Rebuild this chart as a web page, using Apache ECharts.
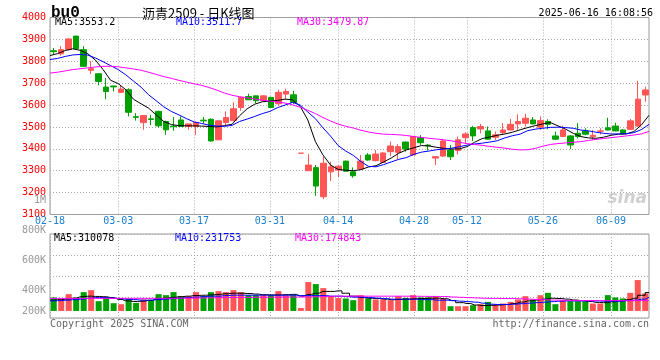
<!DOCTYPE html>
<html>
<head>
<meta charset="utf-8">
<script src="https://cdn.jsdelivr.net/npm/echarts@6/dist/echarts.min.js"></script>
<style>
html,body{margin:0;padding:0;background:#fff;}
#c{width:660px;height:360px;}
</style>
</head>
<body>
<div id="c"></div>
<script>
// ---------------- data ----------------
const dates = [
 '02-18','02-19','02-20','02-21','02-24','02-25','02-26','02-27','02-28',
 '03-03','03-04','03-05','03-06','03-07','03-10','03-11','03-12','03-13','03-14',
 '03-17','03-18','03-19','03-20','03-21','03-24','03-25','03-26','03-27','03-28','03-31',
 '04-01','04-02','04-03','04-07','04-08','04-09','04-10','04-11','04-14','04-15','04-16','04-17','04-18',
 '04-21','04-22','04-23','04-24','04-25','04-28','04-29','04-30',
 '05-06','05-07','05-08','05-09','05-12','05-13','05-14','05-15','05-16',
 '05-19','05-20','05-21','05-22','05-23','05-26','05-27','05-28','05-29','05-30',
 '06-03','06-04','06-05','06-06','06-09','06-10','06-11','06-12','06-13','06-16'
];
const tickDates = ['02-18','03-03','03-17','03-31','04-14','04-28','05-12','05-26','06-09'];

const openP = [
 3848,3834,3854,3915,3853,3759,3743,3682,3687,3658,
 3670,3547,3520,3537,3571,3525,3504,3532,3502,3502,
 3531,3535,3441,3520,3529,3589,3639,3642,3620,3635,
 3606,3650,3647,3380,3300,3314,3181,3295,3303,3344,
 3295,3308,3372,3346,3338,3387,3384,3431,3372,3451,
 3417,3358,3367,3395,3392,3451,3497,3491,3482,3453,
 3474,3486,3514,3517,3532,3499,3525,3459,3456,3459,
 3471,3481,3455,3480,3496,3504,3486,3489,3504,3646
];
const closeP = [
 3844,3853,3902,3858,3777,3766,3708,3662,3683,3673,
 3567,3544,3552,3534,3505,3487,3501,3502,3514,3520,
 3528,3436,3528,3543,3583,3635,3624,3620,3642,3589,
 3658,3662,3612,3380,3326,3230,3334,3318,3321,3298,
 3277,3344,3349,3376,3381,3413,3410,3399,3456,3428,
 3414,3364,3436,3364,3441,3468,3459,3502,3444,3464,
 3486,3512,3525,3540,3514,3529,3512,3444,3486,3418,
 3456,3467,3462,3482,3486,3482,3470,3528,3627,3669
];
const lowP = [
 3831,3826,3850,3856,3774,3742,3690,3627,3662,3655,
 3548,3529,3487,3509,3497,3464,3483,3502,3487,3464,
 3516,3433,3441,3509,3525,3574,3624,3609,3617,3586,
 3597,3627,3606,3380,3300,3185,3170,3253,3272,3296,
 3268,3306,3346,3343,3335,3367,3352,3387,3369,3418,
 3392,3326,3364,3349,3375,3425,3436,3471,3441,3441,
 3464,3484,3487,3502,3512,3487,3490,3441,3453,3399,
 3448,3462,3441,3466,3484,3480,3466,3486,3500,3615
];
const highP = [
 3861,3869,3904,3916,3869,3800,3746,3724,3688,3688,
 3676,3563,3555,3555,3574,3529,3545,3548,3514,3525,
 3545,3540,3530,3571,3612,3639,3652,3643,3644,3638,
 3670,3675,3665,3380,3376,3326,3364,3341,3324,3345,
 3315,3372,3380,3395,3386,3433,3421,3433,3459,3463,
 3422,3366,3444,3418,3456,3476,3505,3514,3502,3479,
 3517,3537,3558,3560,3545,3548,3535,3479,3506,3462,
 3517,3494,3486,3494,3542,3519,3490,3536,3710,3684
];
const ma5 = [
 3826,3835,3849,3857,3850,3834,3805,3762,3713,3698,
 3670,3627,3606,3586,3555,3525,3511,3506,3505,3505,
 3504,3502,3500,3506,3512,3551,3583,3604,3615,3618,
 3621,3627,3624,3594,3532,3433,3372,3326,3306,3302,
 3300,3305,3317,3323,3340,3358,3380,3395,3405,3415,
 3413,3407,3402,3399,3400,3410,3430,3447,3454,3462,
 3468,3476,3487,3497,3506,3514,3520,3505,3490,3471,
 3456,3450,3448,3453,3462,3467,3468,3479,3509,3553.2
];
const ma10 = [
 3808,3813,3822,3829,3831,3828,3815,3798,3780,3762,
 3738,3710,3682,3647,3620,3592,3571,3555,3538,3523,
 3516,3508,3504,3503,3507,3525,3536,3548,3561,3571,
 3588,3600,3612,3600,3568,3538,3496,3458,3415,3390,
 3370,3342,3320,3318,3328,3340,3352,3360,3375,3385,
 3390,3396,3399,3403,3410,3417,3422,3426,3431,3437,
 3450,3460,3467,3483,3490,3494,3498,3499,3497,3494,
 3486,3482,3476,3471,3468,3468,3469,3474,3488,3511.7
];
const ma30 = [
 3746,3750,3756,3762,3766,3770,3774,3777,3777,3775,
 3770,3765,3759,3750,3740,3730,3722,3713,3705,3697,
 3690,3680,3668,3655,3645,3638,3633,3628,3622,3618,
 3614,3609,3601,3590,3576,3561,3543,3527,3513,3503,
 3495,3485,3477,3471,3467,3466,3464,3461,3456,3452,
 3448,3445,3441,3436,3430,3424,3420,3416,3411,3407,
 3403,3398,3395,3396,3402,3412,3420,3424,3427,3430,
 3433,3438,3443,3447,3451,3455,3459,3463,3468,3479.87
];
const volume = [
 228000,194000,284000,228000,318000,352000,165000,228000,131000,114000,
 204000,136000,194000,182000,284000,267000,318000,250000,250000,318000,
 250000,318000,335000,318000,352000,318000,267000,267000,267000,267000,
 335000,267000,267000,51000,488000,454000,386000,250000,221000,211000,
 182000,267000,211000,194000,194000,182000,250000,221000,267000,228000,
 228000,250000,211000,80000,80000,80000,97000,114000,153000,114000,
 126000,153000,194000,250000,194000,267000,306000,114000,182000,165000,
 165000,165000,126000,126000,267000,228000,211000,306000,522000,296000
];
const volMa5 = [
 182000,190000,200000,215000,240000,250000,245000,240000,225000,195000,
 170000,160000,165000,180000,200000,215000,230000,240000,250000,260000,
 265000,270000,280000,290000,300000,300000,295000,285000,275000,270000,
 270000,275000,280000,250000,280000,300000,330000,330000,340000,300000,
 250000,225000,215000,210000,200000,190000,195000,200000,205000,210000,
 215000,215000,205000,175000,140000,125000,100000,92000,95000,100000,
 108000,125000,150000,170000,185000,200000,215000,210000,200000,185000,
 175000,160000,145000,140000,155000,170000,190000,215000,265000,310078
];
const volMa10 = [
 170000,174000,182000,191000,199000,216000,225000,225000,216000,208000,
 199000,191000,182000,182000,191000,199000,208000,216000,225000,233000,
 242000,250000,250000,259000,267000,267000,267000,267000,267000,267000,
 267000,267000,267000,259000,259000,259000,259000,250000,250000,242000,
 233000,233000,225000,216000,208000,199000,199000,199000,199000,191000,
 191000,182000,182000,174000,165000,157000,148000,131000,114000,109000,
 109000,114000,123000,131000,140000,148000,157000,165000,170000,170000,
 170000,170000,170000,165000,165000,165000,174000,182000,199000,231753
];
const volMa30 = [
 211000,211000,211000,212000,212000,212000,212000,213000,213000,213000,
 213000,213000,213000,213000,214000,214000,215000,216000,217000,218000,
 220000,222000,224000,226000,228000,229000,230000,231000,232000,233000,
 234000,235000,236000,237000,238000,240000,245000,248000,250000,250000,
 250000,250000,250000,250000,250000,250000,250000,249000,248000,247000,
 246000,245000,243000,235000,230000,225000,220000,215000,212000,211000,
 210000,210000,205000,200000,195000,190000,185000,182000,180000,178000,
 176000,175000,175000,175000,175000,174000,174000,174000,175000,174843
];
const priceMin = 3100, priceMax = 4000, priceStep = 100;
const volTickLabels = [200000, 400000, 600000, 800000];

// ---------------- styles ----------------
const UP = '#ff5555', DN = '#00a000';
const MONO = "'DejaVu Sans Mono', monospace";
const GRIDC = '#aaaaaa';
const dot = {color: GRIDC, width: 1, type: [1, 2]};
const last = a => a[a.length - 1];
const isTick = (i, v) => tickDates.indexOf(v) >= 0;

const candleData = dates.map((d, i) => {
  const up = closeP[i] >= openP[i];
  const c = up ? UP : DN;
  return {value: [openP[i], closeP[i], lowP[i], highP[i]], itemStyle: {color: c, color0: c, borderColor: c, borderColor0: c}};
});
const volData = dates.map((d, i) => ({value: volume[i], itemStyle: {color: closeP[i] >= openP[i] ? UP : DN}}));

const L = 50, W = 599;
const lineS = (name, data, color, xi, yi, step) => ({
  name, type: 'line', data, xAxisIndex: xi, yAxisIndex: yi, showSymbol: false, symbol: 'none',
  step: step || false, silent: true, lineStyle: {color, width: 1}, z: 5
});

const option = {
  animation: false,
  backgroundColor: '#fff',
  grid: [
    {left: L, width: W, top: 17.5, height: 197, show: true, borderColor: '#999', borderWidth: 1},
    {left: L, width: W, top: 234, height: 84, show: true, borderColor: '#999', borderWidth: 1},
    {left: L, width: W, top: 230, height: 91}
  ],
  xAxis: [
    {type: 'category', gridIndex: 0, data: dates, boundaryGap: true, show: false},
    {type: 'category', gridIndex: 0, data: dates, boundaryGap: false, position: 'bottom',
     axisLine: {show: false}, axisTick: {show: false},
     axisLabel: {show: true, interval: isTick, color: '#1a7fd0', fontFamily: MONO, fontSize: 10, margin: 2},
     splitLine: {show: true, interval: isTick, lineStyle: dot}},
    {type: 'category', gridIndex: 1, data: dates, boundaryGap: true, show: false},
    {type: 'category', gridIndex: 1, data: dates, boundaryGap: false,
     axisLine: {show: false}, axisTick: {show: false}, axisLabel: {show: false},
     splitLine: {show: true, interval: isTick, lineStyle: dot}},
    {type: 'value', gridIndex: 2, show: false}
  ],
  yAxis: [
    {type: 'value', gridIndex: 0, min: priceMin, max: priceMax, interval: priceStep,
     axisLine: {show: false}, axisTick: {show: false},
     axisLabel: {color: '#ff0000', fontFamily: MONO, fontSize: 10, margin: 4, padding: [0, 0, 5, 0], formatter: v => String(v)},
     splitLine: {show: true, lineStyle: dot}},
    {type: 'value', gridIndex: 1, min: -119000, max: 1300000, show: false, splitLine: {show: false}},
    {type: 'value', gridIndex: 1, min: 0, max: 4, interval: 1,
     axisLine: {show: false}, axisTick: {show: false}, axisLabel: {show: false},
     splitLine: {show: true, lineStyle: dot}},
    {type: 'value', gridIndex: 2, min: volTickLabels[0], max: last(volTickLabels), interval: volTickLabels[1] - volTickLabels[0],
     axisLine: {show: false}, axisTick: {show: false}, splitLine: {show: false},
     axisLabel: {color: '#999', fontFamily: MONO, fontSize: 10, margin: 4,
       formatter: v => v === volTickLabels[0] ? '{lift|' + (v / 1000) + 'K}' : (v / 1000) + 'K',
       rich: {lift: {color: '#999', fontFamily: MONO, fontSize: 10, padding: [0, 0, 20, 0]}}}}
  ],
  series: [
    {name: 'K', type: 'candlestick', xAxisIndex: 0, yAxisIndex: 0, data: candleData, barWidth: 6, silent: true},
    lineS('MA5', ma5, '#000000', 1, 0),
    lineS('MA10', ma10, '#0000ff', 1, 0),
    lineS('MA30', ma30, '#ff00ff', 1, 0),
    {name: 'VOL', type: 'bar', xAxisIndex: 2, yAxisIndex: 1, data: volData, barWidth: 6, silent: true},
    lineS('VMA5', volMa5, '#000000', 3, 1, 'middle'),
    lineS('VMA10', volMa10, '#0000ff', 3, 1, 'middle'),
    lineS('VMA30', volMa30, '#ff00ff', 3, 1, 'middle')
  ],
  graphic: [
    {type: 'text', x: 51, y: 13, style: {text: 'bu0', fill: '#000', font: "bold 16px 'Liberation Mono', monospace", verticalAlign: 'middle'}},
    {type: 'text', x: 142, y: 13, style: {text: '沥青2509 - 日K线图', fill: '#000', font: "13px 'Noto Sans CJK SC'", verticalAlign: 'middle'}},
    {type: 'text', x: 653, y: 13, style: {text: '2025-06-16 16:08:56', fill: '#000', font: '10px ' + MONO, align: 'right', verticalAlign: 'middle'}},
    {type: 'text', x: 55, y: 22.5, style: {text: 'MA5:' + last(ma5), fill: '#000', font: '10px ' + MONO, verticalAlign: 'middle'}},
    {type: 'text', x: 176, y: 22.5, style: {text: 'MA10:' + last(ma10), fill: '#0000ff', font: '10px ' + MONO, verticalAlign: 'middle'}},
    {type: 'text', x: 297, y: 22.5, style: {text: 'MA30:' + last(ma30), fill: '#ff00ff', font: '10px ' + MONO, verticalAlign: 'middle'}},
    {type: 'text', x: 46, y: 200.5, style: {text: '1M', fill: '#999', font: '10px ' + MONO, align: 'right', verticalAlign: 'middle'}},
    {type: 'text', x: 54, y: 238.5, style: {text: 'MA5:' + last(volMa5), fill: '#000', font: '10px ' + MONO, verticalAlign: 'middle'}},
    {type: 'text', x: 175, y: 238.5, style: {text: 'MA10:' + last(volMa10), fill: '#0000ff', font: '10px ' + MONO, verticalAlign: 'middle'}},
    {type: 'text', x: 295, y: 238.5, style: {text: 'MA30:' + last(volMa30), fill: '#ff00ff', font: '10px ' + MONO, verticalAlign: 'middle'}},
    {type: 'text', x: 50, y: 324, style: {text: 'Copyright 2025 SINA.COM', fill: '#666', font: '10px ' + MONO, verticalAlign: 'middle'}},
    {type: 'text', x: 649, y: 324, style: {text: 'http://finance.sina.com.cn', fill: '#666', font: '10px ' + MONO, align: 'right', verticalAlign: 'middle'}},
    {type: 'text', x: 647, y: 199, z: 0, style: {text: 'sina', fill: '#d0d0d0', font: "italic bold 17px 'DejaVu Sans'", align: 'right', verticalAlign: 'middle'}}
  ]
};
const chart = echarts.init(document.getElementById('c'), null, {renderer: 'canvas'});
chart.setOption(option);
</script>
</body>
</html>
